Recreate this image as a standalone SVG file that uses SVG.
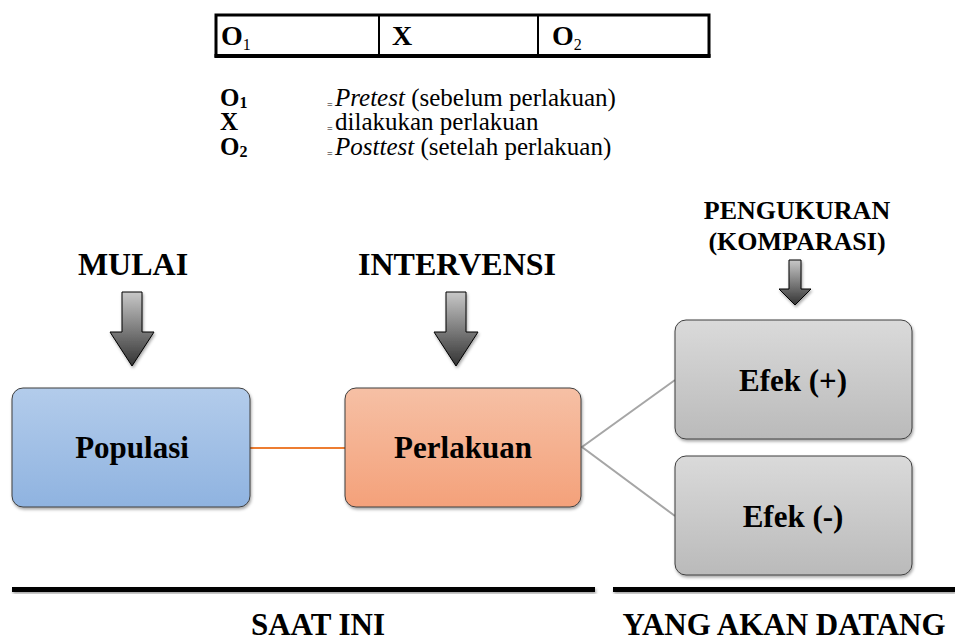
<svg xmlns="http://www.w3.org/2000/svg" width="955" height="641" viewBox="0 0 955 641">
<defs>
<linearGradient id="gBlue" x1="0" y1="0" x2="0" y2="1"><stop offset="0" stop-color="#b3cceb"/><stop offset="1" stop-color="#8fb3e0"/></linearGradient>
<linearGradient id="gOrange" x1="0" y1="0" x2="0" y2="1"><stop offset="0" stop-color="#f6c0a5"/><stop offset="1" stop-color="#f4a17a"/></linearGradient>
<linearGradient id="gGray" x1="0" y1="0" x2="0" y2="1"><stop offset="0" stop-color="#dadada"/><stop offset="1" stop-color="#bababa"/></linearGradient>
<linearGradient id="gArrow" x1="0" y1="0" x2="0" y2="1"><stop offset="0" stop-color="#c8c8c8"/><stop offset="1" stop-color="#333333"/></linearGradient>
<filter id="sh" x="-20%" y="-20%" width="140%" height="160%"><feDropShadow dx="1" dy="2" stdDeviation="1.5" flood-color="#000" flood-opacity="0.35"/></filter>
</defs>
<style>
text{font-family:'Liberation Serif','DejaVu Serif',serif;fill:#000}
.b{font-weight:bold}
.node{stroke:#3f3f3f;stroke-width:1}
.arrow{fill:url(#gArrow);stroke:#000;stroke-width:1}
.nl{font-weight:bold;font-size:31px;text-anchor:middle}
.hd{font-weight:bold;font-size:32px;text-anchor:middle}
.sm{font-size:26px}
.ft{font-size:31px}
.lg{font-size:25px}
</style>
<g id="table">
<rect x="216" y="15" width="493" height="41" fill="#fff" stroke="#000" stroke-width="3"/>
<line x1="214.5" y1="56" x2="710.5" y2="56" stroke="#000" stroke-width="4"/>
<line x1="379" y1="15" x2="379" y2="56" stroke="#000" stroke-width="2"/>
<line x1="538" y1="15" x2="538" y2="56" stroke="#000" stroke-width="2"/>
<text class="b" x="221" y="45" font-size="28">O<tspan font-size="16" dy="5" font-weight="normal">1</tspan></text>
<text class="b" x="392" y="45" font-size="28">X</text>
<text class="b" x="552" y="45" font-size="28">O<tspan font-size="16" dy="5" font-weight="normal">2</tspan></text>
</g>
<g id="legend">
<text class="b lg" x="220" y="106">O<tspan font-size="16" dy="2">1</tspan></text>
<text x="327" y="108" font-size="10">=</text>
<text class="lg" x="335" y="106"><tspan font-style="italic">Pretest</tspan> (sebelum perlakuan)</text>
<text class="b lg" x="220" y="130">X</text>
<text x="327" y="132" font-size="10">=</text>
<text class="lg" x="335" y="130">dilakukan perlakuan</text>
<text class="b lg" x="220" y="155">O<tspan font-size="16" dy="2">2</tspan></text>
<text x="327" y="157" font-size="10">=</text>
<text class="lg" x="335" y="155"><tspan font-style="italic">Posttest</tspan> (setelah perlakuan)</text>
</g>
<g id="connectors">
<line x1="250" y1="448" x2="345" y2="448" stroke="#ed7d31" stroke-width="2"/>
<polyline points="675,380 582,447 675,516" fill="none" stroke="#a6a6a6" stroke-width="2"/>
</g>
<g id="label-mulai">
<text class="hd" x="133" y="275">MULAI</text>
<path class="arrow" filter="url(#sh)" d="M122,292 H142 V332 H154 L132,366 L110,332 H122 Z"/>
</g>
<g id="label-intervensi">
<text class="hd" x="457" y="275">INTERVENSI</text>
<path class="arrow" filter="url(#sh)" d="M446,292 H466 V332 H478 L456,366 L434,332 H446 Z"/>
</g>
<g id="label-pengukuran">
<text class="hd sm" x="797" y="219">PENGUKURAN</text>
<text class="hd sm" x="797" y="250">(KOMPARASI)</text>
<path class="arrow" filter="url(#sh)" d="M789,260 H801 V289 H811 L795,305 L779,289 H789 Z"/>
</g>
<g id="populasi">
<rect class="node" x="12" y="388" width="238" height="119" rx="11" fill="url(#gBlue)" filter="url(#sh)"/>
<text class="nl" x="132" y="458">Populasi</text>
</g>
<g id="perlakuan">
<rect class="node" x="345" y="388" width="236" height="119" rx="11" fill="url(#gOrange)" filter="url(#sh)"/>
<text class="nl" x="463" y="458">Perlakuan</text>
</g>
<g id="efek-plus">
<rect class="node" x="675" y="320" width="237" height="119" rx="11" fill="url(#gGray)" filter="url(#sh)"/>
<text class="nl" x="793" y="391">Efek (+)</text>
</g>
<g id="efek-minus">
<rect class="node" x="675" y="456" width="237" height="119" rx="11" fill="url(#gGray)" filter="url(#sh)"/>
<text class="nl" x="793" y="527">Efek (-)</text>
</g>
<g id="timeline">
<rect x="12" y="587" width="583" height="5" fill="#000" filter="url(#sh)"/>
<rect x="613" y="587" width="342" height="5" fill="#000" filter="url(#sh)"/>
<text class="hd ft" x="318" y="635">SAAT INI</text>
<text class="hd ft" x="784" y="635">YANG AKAN DATANG</text>
</g>
</svg>
